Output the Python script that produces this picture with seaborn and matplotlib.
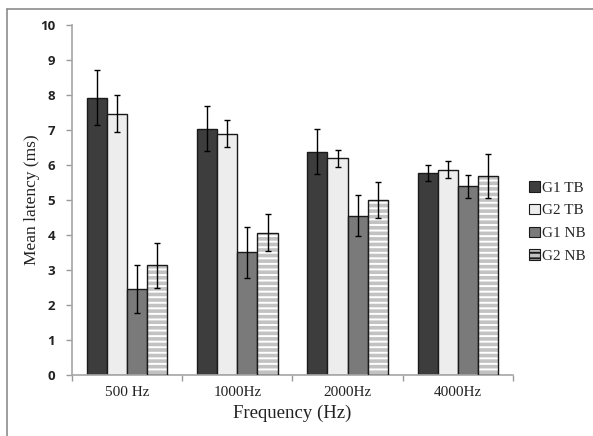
import numpy as np
import pandas as pd
import seaborn as sns
import matplotlib
matplotlib.use("Agg")
import matplotlib.pyplot as plt
from matplotlib.lines import Line2D
from matplotlib.patches import Rectangle

frequencies = ["500 Hz", "1000Hz", "2000Hz", "4000Hz"]
groups = ["G1 TB", "G2 TB", "G1 NB", "G2 NB"]
g1_tb = [7.92, 7.04, 6.38, 5.78]
g2_tb = [7.47, 6.89, 6.19, 5.86]
g1_nb = [2.46, 3.50, 4.55, 5.39]
g2_nb = [3.13, 4.07, 5.00, 5.69]
g1_tb_err = [0.78, 0.65, 0.65, 0.23]
g2_tb_err = [0.53, 0.39, 0.25, 0.24]
g1_nb_err = [0.68, 0.72, 0.58, 0.32]
g2_nb_err = [0.64, 0.53, 0.51, 0.63]

colors = ["#3d3d3d", "#ededed", "#7a7a7a", "#c2c2c2"]

means = [g1_tb, g2_tb, g1_nb, g2_nb]
errs = [g1_tb_err, g2_tb_err, g1_nb_err, g2_nb_err]
rows = []
for g, m, e in zip(groups, means, errs):
    for f, v, s in zip(frequencies, m, e):
        rows.append({"Frequency": f, "Group": g, "Mean": v, "Err": s})
df = pd.DataFrame(rows)

sns.set_theme(style="white")
plt.rcParams["hatch.linewidth"] = 1.4

fig = plt.figure(figsize=(5.93, 4.36), dpi=100)
ax = fig.add_axes([0.1214, 0.1399, 0.865 - 0.1214, 0.9427 - 0.1399])

sns.barplot(data=df, x="Frequency", y="Mean", hue="Group", order=frequencies,
            hue_order=groups, palette=colors, errorbar=None, width=0.73,
            edgecolor="#1a1a1a", linewidth=1.0, saturation=1, ax=ax, legend=True)

# error bars from bar geometry
bars = [p for p in ax.patches if p.get_height() > 0][:16]
for i, g in enumerate(groups):
    sub = df[df["Group"] == g]
    for j, (v, s) in enumerate(zip(sub["Mean"], sub["Err"])):
        p = bars[i * 4 + j]
        xc = p.get_x() + p.get_width() / 2
        ax.errorbar(xc, v, yerr=s, fmt="none", ecolor="black", elinewidth=1.0,
                    capsize=2.5, capthick=1.0, zorder=5)

# white stripes for G2 NB
for j in range(4):
    p = bars[12 + j]
    p.set_hatch("---")
    p.set_edgecolor("white")
    p.set_linewidth(0)
    ax.add_patch(Rectangle((p.get_x(), p.get_y()), p.get_width(), p.get_height(),
                           fill=False, edgecolor="#1a1a1a", linewidth=1.0, zorder=3))

ax.set_ylim(0, 10)
ax.set_xlim(-0.5, 3.5)
ax.set_yticks(range(0, 11))
ax.set_yticklabels([str(i) for i in range(0, 11)], fontsize=9.5, fontweight="bold",
                   family="Open Sans", color="#222222")
ax.set_xticks(range(4))
ax.set_xticklabels(frequencies, fontsize=11, family="Liberation Serif", color="#222222")
ax.set_xticks([0.5, 1.5, 2.5, 3.5, -0.5], minor=True)
ax.tick_params(axis="x", which="major", length=0, pad=8)
ax.tick_params(axis="x", which="minor", length=4, color="#999999", width=1, direction="out", bottom=True)
ax.tick_params(axis="y", which="major", length=4, color="#999999", width=1, direction="out", left=True, pad=8)

ax.set_xlabel("Frequency (Hz)", fontsize=13.5, family="Liberation Serif", color="#222222", labelpad=4)
ax.set_ylabel("Mean latency (ms)", fontsize=12.5, family="Liberation Serif", color="#222222", labelpad=0)

for s in ["top", "right"]:
    ax.spines[s].set_visible(False)
for s in ["left", "bottom"]:
    ax.spines[s].set_color("#a6a6a6")
    ax.spines[s].set_linewidth(1.2)

handles, labels = ax.get_legend_handles_labels()
leg = ax.legend(handles[:4], groups, loc="center left", bbox_to_anchor=(526 / 593, 1 - 222 / 436),
                bbox_transform=fig.transFigure, frameon=False, handlelength=0.7, handleheight=0.7,
                handletextpad=0.15, labelspacing=0.6, borderaxespad=0, borderpad=0.2,
                prop={"family": "Liberation Serif", "size": 11})
for h, c in zip(leg.get_patches(), colors):
    h.set_facecolor(c)
    h.set_edgecolor("#1a1a1a")
    h.set_linewidth(0.8)
leg.get_patches()[3].set_hatch("---")
leg.get_patches()[3].set_edgecolor("#1a1a1a")

# outer frame (top and left)
fig.add_artist(Line2D([7 / 593, 1.0], [1 - 9.5 / 436, 1 - 9.5 / 436], transform=fig.transFigure,
                      color="#8c8c8c", linewidth=1.2))
fig.add_artist(Line2D([7 / 593, 7 / 593], [0.0, 1 - 9.5 / 436], transform=fig.transFigure,
                      color="#8c8c8c", linewidth=1.2))

fig.savefig("out.png", dpi=100)
